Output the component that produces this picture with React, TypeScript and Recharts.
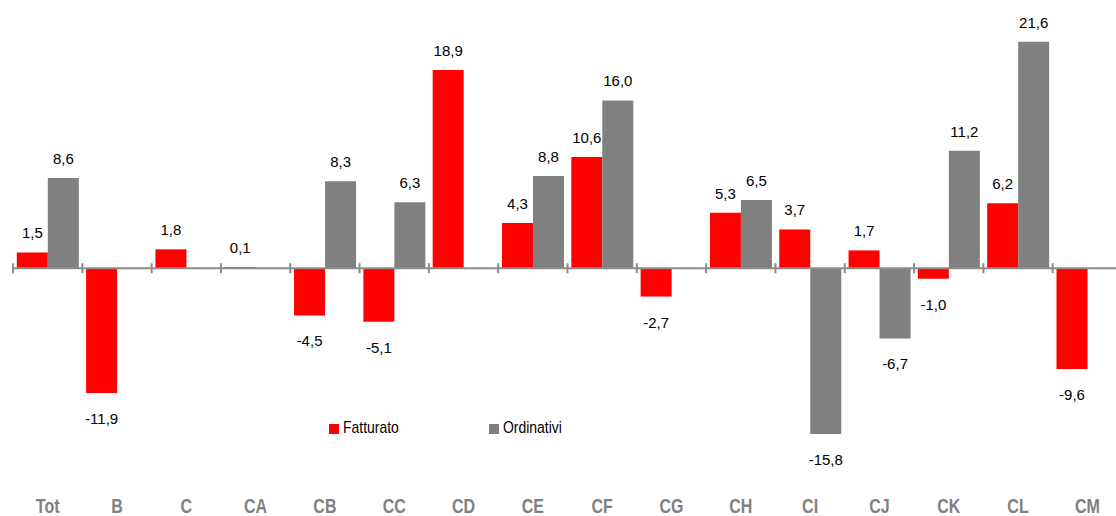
import React from 'react';
import { BarChart, Bar, XAxis, YAxis, ReferenceLine, LabelList, Legend } from 'recharts';

const categories = ['Tot', 'B', 'C', 'CA', 'CB', 'CC', 'CD', 'CE', 'CF', 'CG', 'CH', 'CI', 'CJ', 'CK', 'CL', 'CM'];
const fatturato = [1.5, -11.9, 1.8, 0.1, -4.5, -5.1, 18.9, 4.3, 10.6, -2.7, 5.3, 3.7, 1.7, -1.0, 6.2, -9.6];
const ordinativi = [8.6, null, null, null, 8.3, 6.3, null, 8.8, 16.0, null, 6.5, -15.8, -6.7, 11.2, 21.6, null];
const seriesNames = ['Fatturato', 'Ordinativi'];
const seriesColors = ['#FF0000', '#808080'];

const data = categories.map((c, i) => ({ name: c, fatturato: fatturato[i], ordinativi: ordinativi[i] }));

const SANS = '"Liberation Sans", Arial, sans-serif';

const fmt = (v: number) => v.toFixed(1).replace('.', ',');

const ValueLabel = (props: any) => {
  const { x, y, width, height, value } = props;
  if (value === null || value === undefined) return null;
  const top = Math.min(y, y + height);
  const bottom = Math.max(y, y + height);
  const cx = x + width / 2;
  const ty = value >= 0 ? top - 14 : bottom + 31;
  return (
    <text x={cx} y={ty} textAnchor="middle" fontFamily={SANS} fontSize={15} fill="#000">
      {fmt(value)}
    </text>
  );
};

const ZeroAxis = (props: any) => {
  const { x1, y1, x2 } = props;
  const n = categories.length;
  const step = (x2 - x1) / n;
  const ticks = [];
  for (let i = 0; i <= n; i++) {
    const tx = x1 + i * step;
    ticks.push(<line key={i} x1={tx} x2={tx} y1={y1 - 5} y2={y1 + 5} stroke="#8c8c8c" strokeWidth={2} />);
  }
  return (
    <g>
      <line x1={x1} x2={x2} y1={y1} y2={y1} stroke="#8c8c8c" strokeWidth={2} />
      {ticks}
    </g>
  );
};

const CatTick = (props: any) => {
  const { x, y, payload } = props;
  return (
    <g transform={`translate(${x},${y + 29}) scale(0.8,1)`}>
      <text x={0} y={0} textAnchor="middle" fontFamily={SANS} fontWeight="bold" fontSize={20} fill="#808080">
        {payload.value}
      </text>
    </g>
  );
};

const LegendContent = () => (
  <div style={{ position: 'relative', width: 300, height: 20, fontFamily: SANS, fontSize: 17, color: '#000' }}>
    {seriesNames.map((n, i) => (
      <div key={n} style={{ position: 'absolute', left: i * 160, top: 0, display: 'flex', alignItems: 'center', whiteSpace: 'nowrap' }}>
        <span style={{ display: 'inline-block', width: 10, height: 10, background: seriesColors[i], marginRight: 4, marginTop: 1 }} />
        <span style={{ display: 'inline-block', transform: 'scaleX(0.82)', transformOrigin: 'left center' }}>{n}</span>
      </div>
    ))}
  </div>
);

export default function App() {
  return (
    <div style={{ position: 'absolute', left: 0, top: 0, width: 1116, height: 516, overflow: 'hidden', background: '#fff' }}>
      <BarChart
        width={1124}
        height={516}
        data={data}
        margin={{ top: 6, right: 2, bottom: 0, left: 13 }}
        barCategoryGap="5.5%"
        barGap={0}
      >
        <XAxis dataKey="name" axisLine={false} tickLine={false} height={38} tick={<CatTick />} interval={0} tickMargin={0} />
        <YAxis hide domain={[-20, 25]} type="number" allowDataOverflow />
        <Bar dataKey="fatturato" name={seriesNames[0]} fill={seriesColors[0]} isAnimationActive={false}>
          <LabelList dataKey="fatturato" content={<ValueLabel />} />
        </Bar>
        <Bar dataKey="ordinativi" name={seriesNames[1]} fill={seriesColors[1]} isAnimationActive={false}>
          <LabelList dataKey="ordinativi" content={<ValueLabel />} />
        </Bar>
        <ReferenceLine y={0} shape={<ZeroAxis />} />
        <Legend
          layout="horizontal"
          verticalAlign="middle"
          align="center"
          content={<LegendContent />}
          wrapperStyle={{ position: 'absolute', left: 329, top: 418, width: 300, height: 20 }}
        />
      </BarChart>
    </div>
  );
}
